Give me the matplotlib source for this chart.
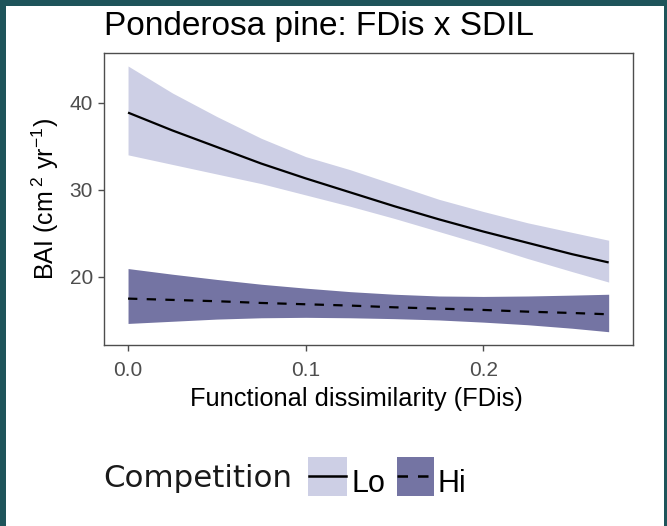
import matplotlib
matplotlib.use("Agg")
import matplotlib.pyplot as plt
from matplotlib.patches import Rectangle
from matplotlib.lines import Line2D

# Predicted basal area increment vs functional dissimilarity
fdis = [0.0, 0.025, 0.05, 0.075, 0.1, 0.125, 0.15, 0.175, 0.2, 0.225, 0.25, 0.2706]

lo_fit = [38.85, 36.8, 34.9, 33.0, 31.3, 29.7, 28.1, 26.6, 25.2, 23.9, 22.6, 21.65]
lo_upper = [44.2, 41.1, 38.4, 35.9, 33.8, 32.3, 30.6, 28.9, 27.5, 26.2, 25.1, 24.2]
lo_lower = [34.0, 32.9, 31.8, 30.7, 29.4, 28.1, 26.7, 25.2, 23.7, 22.1, 20.6, 19.4]

hi_fit = [17.5, 17.35, 17.2, 17.0, 16.85, 16.7, 16.5, 16.35, 16.2, 16.0, 15.85, 15.7]
hi_upper = [20.95, 20.3, 19.7, 19.15, 18.7, 18.3, 18.0, 17.8, 17.75, 17.8, 17.9, 18.0]
hi_lower = [14.65, 14.9, 15.15, 15.3, 15.35, 15.3, 15.2, 15.05, 14.8, 14.5, 14.1, 13.7]

x_ticks = [0.0, 0.1, 0.2]
x_tick_labels = ["0.0", "0.1", "0.2"]
y_ticks = [20, 30, 40]
y_tick_labels = ["20", "30", "40"]
groups = ["Lo", "Hi"]

LO_FILL = "#cdcfe5"
HI_FILL = "#7474a3"
FRAME = "#1e545a"

plt.rcParams["mathtext.fontset"] = "custom"
plt.rcParams["mathtext.rm"] = "Liberation Sans"
plt.rcParams["mathtext.it"] = "Liberation Sans"

W, H = 667, 526
fig = plt.figure(figsize=(W / 100, H / 100), dpi=100)
fig.patch.set_facecolor(FRAME)
fig.patches.append(Rectangle((6 / W, 0), (664 - 6) / W, (H - 6) / H,
                             transform=fig.transFigure, facecolor="white",
                             edgecolor="none", zorder=-5))

def fx(px):
    return px / W

def fy(py):
    return (H - py) / H

ax = fig.add_axes([fx(104), fy(345), fx(632.7) - fx(104), fy(52.7) - fy(345)])
ax.set_facecolor("white")

ax.fill_between(fdis, lo_lower, lo_upper, color=LO_FILL, linewidth=0, zorder=1)
ax.fill_between(fdis, hi_lower, hi_upper, color=HI_FILL, linewidth=0, zorder=1)
ax.plot(fdis, lo_fit, color="black", linewidth=1.6, solid_capstyle="butt", zorder=3)
ax.plot(fdis, hi_fit, color="black", linewidth=1.6, linestyle=(0, (4.2, 4.2)), zorder=3)

xmin, xmax = min(fdis), max(fdis)
pad = 0.05 * (xmax - xmin)
ax.set_xlim(xmin - pad, xmax + pad)
ymin, ymax = min(hi_lower), max(lo_upper)
ypad = 0.05 * (ymax - ymin)
ax.set_ylim(ymin - ypad, ymax + ypad)

ax.set_xticks(x_ticks)
ax.set_xticklabels(x_tick_labels)
ax.set_yticks(y_ticks)
ax.set_yticklabels(y_tick_labels)
for s in ax.spines.values():
    s.set_color("#4d4d4d")
    s.set_linewidth(1.0)
ax.tick_params(direction="out", length=4.5, width=1.0, color="#4d4d4d",
               labelcolor="#4d4d4d", labelsize=15)
ax.tick_params(axis="x", pad=7)
ax.tick_params(axis="y", pad=3.5)
for t in ax.get_xticklabels() + ax.get_yticklabels():
    t.set_family("Liberation Sans")

ax.set_xlabel("Functional dissimilarity (FDis)", fontsize=18.3, family="Liberation Sans",
              color="black", labelpad=5, x=0.4766)
ax.set_ylabel(r"BAI (cm$^{\ 2}$ yr$^{-1}$)", fontsize=18, family="Liberation Sans",
              color="black", labelpad=6)

fig.text(fx(104), fy(35), "Ponderosa pine: FDis x SDIL", fontsize=24,
         family="Liberation Sans", color="black", ha="left", va="baseline")

# Legend drawn below the panel
fig.text(fx(103), fy(487), "Competition", fontsize=22.2, family="DejaVu Sans",
         color="#1a1a1a", ha="left", va="baseline")
fig.patches.append(Rectangle((fx(307.7), fy(496)), fx(347.3) - fx(307.7), fy(456.7) - fy(496),
                             transform=fig.transFigure, facecolor=LO_FILL, edgecolor="none"))
fig.lines.append(Line2D([fx(309), fx(346)], [fy(476), fy(476)], transform=fig.transFigure,
                        color="black", linewidth=1.8))
fig.text(fx(351), fy(491.5), groups[0], fontsize=22, family="Liberation Sans",
         color="black", ha="left", va="baseline")
fig.patches.append(Rectangle((fx(396.7), fy(496)), fx(434.3) - fx(396.7), fy(456.7) - fy(496),
                             transform=fig.transFigure, facecolor=HI_FILL, edgecolor="none"))
fig.lines.append(Line2D([fx(397.5), fx(433.5)], [fy(476), fy(476)], transform=fig.transFigure,
                        color="black", linewidth=1.8, linestyle=(0, (4.2, 4.0))))
fig.text(fx(437.5), fy(491.5), groups[1], fontsize=22, family="Liberation Sans",
         color="black", ha="left", va="baseline")

fig.savefig("out.png", dpi=100, facecolor=fig.get_facecolor())
